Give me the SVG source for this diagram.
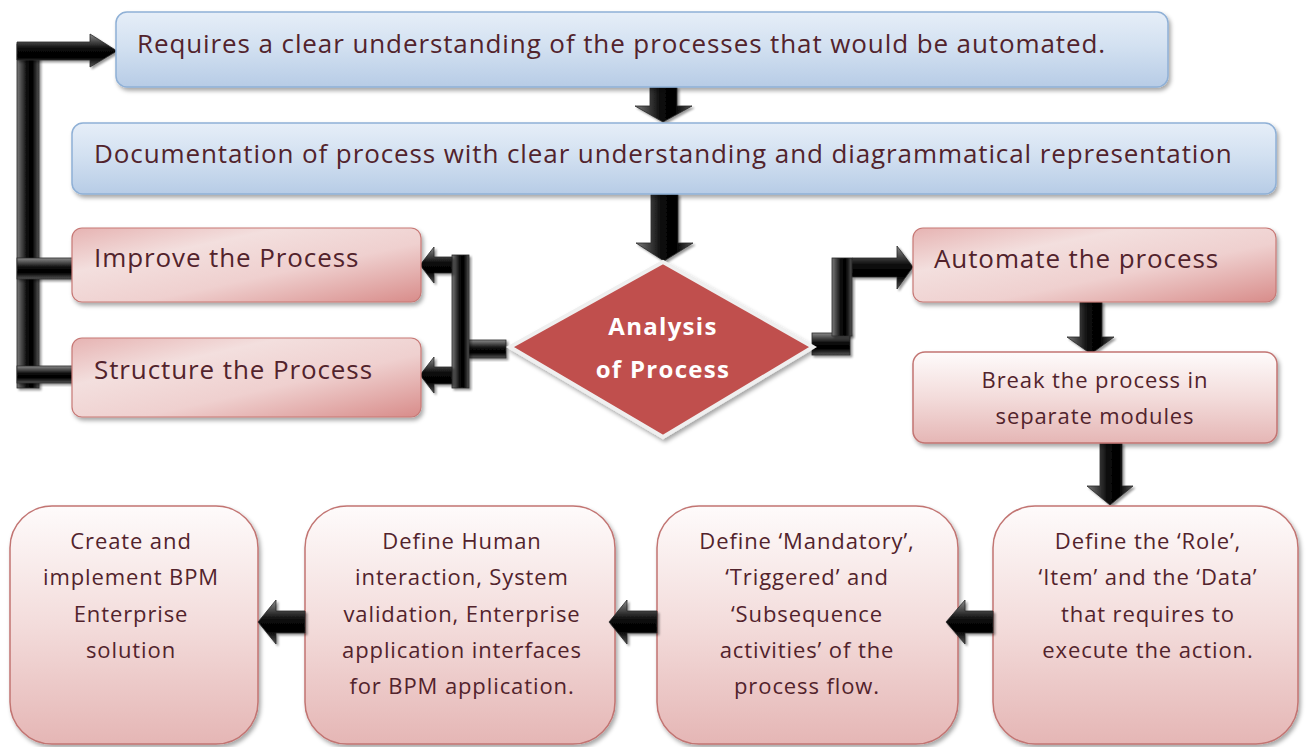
<svg xmlns="http://www.w3.org/2000/svg" width="1307" height="747" viewBox="0 0 1307 747">
  <defs>
    <linearGradient id="gBlue" x1="0" y1="0" x2="0" y2="1">
      <stop offset="0" stop-color="#e6eef8"/>
      <stop offset="0.45" stop-color="#d3e1f1"/>
      <stop offset="1" stop-color="#b7cce6"/>
    </linearGradient>
    <linearGradient id="gRed" x1="0" y1="0" x2="1" y2="1">
      <stop offset="0" stop-color="#e6b3b2"/>
      <stop offset="0.3" stop-color="#f3dfde"/>
      <stop offset="0.6" stop-color="#efd0cf"/>
      <stop offset="1" stop-color="#d88c8a"/>
    </linearGradient>
    <linearGradient id="gPale" x1="0" y1="0" x2="0" y2="1">
      <stop offset="0" stop-color="#fefbfb"/>
      <stop offset="0.5" stop-color="#f3dcdb"/>
      <stop offset="1" stop-color="#e5b6b5"/>
    </linearGradient>
    <!-- tube shading for horizontal and vertical arrow bodies -->
    <linearGradient id="gH" x1="0" y1="0" x2="0" y2="1">
      <stop offset="0" stop-color="#8a8a8a"/>
      <stop offset="0.45" stop-color="#0a0a0a"/>
      <stop offset="0.7" stop-color="#000"/>
      <stop offset="1" stop-color="#555"/>
    </linearGradient>
    <linearGradient id="gV" x1="0" y1="0" x2="1" y2="0">
      <stop offset="0" stop-color="#7a7a7a"/>
      <stop offset="0.45" stop-color="#0a0a0a"/>
      <stop offset="0.7" stop-color="#000"/>
      <stop offset="1" stop-color="#555"/>
    </linearGradient>
    <filter id="shadow" x="-5%" y="-10%" width="112%" height="125%">
      <feDropShadow dx="2" dy="3" stdDeviation="2" flood-color="#000" flood-opacity="0.35"/>
    </filter>
    <filter id="soft" x="-10%" y="-10%" width="130%" height="130%">
      <feDropShadow dx="2" dy="2" stdDeviation="1.2" flood-color="#000" flood-opacity="0.4"/>
    </filter>
  </defs>
  <style>
    text { font-family: "Open Sans", "Noto Sans", "DejaVu Sans", sans-serif; fill: #52232c; }
    .big { font-size: 26px; letter-spacing: 0.9px; }
    .mid { font-size: 22px; letter-spacing: 0.9px; text-anchor: middle; }
    .dia { font-weight: bold; font-size: 24px; letter-spacing: 1.3px; fill: #fff; text-anchor: middle; }
    .blue { fill: url(#gBlue); stroke: #8fb0d6; stroke-width: 1.5; filter: url(#shadow); }
    .red { fill: url(#gRed); stroke: #c77875; stroke-width: 1.2; filter: url(#shadow); }
    .pale { fill: url(#gPale); stroke: #c27472; stroke-width: 1.5; filter: url(#shadow); }
    .ah { fill: url(#gH); stroke: #2a2a2a; stroke-width: 0.8; filter: url(#soft); }
    .av { fill: url(#gV); stroke: #2a2a2a; stroke-width: 0.8; filter: url(#soft); }
  </style>

  <rect width="1307" height="747" fill="#fff"/>

  <!-- connectors -->
  <g id="connectors">
    <!-- feedback loop on the left back to the first step -->
    <rect class="av" x="17" y="44" width="22" height="344"/>
    <polygon class="ah" points="17,42 90,42 90,34 117,51 90,67 90,60 17,60"/>
    <rect class="ah" x="17" y="258" width="57" height="21"/>
    <rect class="ah" x="17" y="366" width="57" height="17"/>

    <!-- vertical flow at the top -->
    <polygon class="av" points="650,87 677,87 677,106 692,106 663,122 635,106 650,106"/>
    <polygon class="av" points="651,194 678,194 678,243 693,243 664,261 636,243 651,243"/>

    <!-- from the decision to improve / structure -->
    <rect class="ah" x="468" y="340" width="38" height="18"/>
    <rect class="av" x="452" y="255" width="17" height="133"/>
    <polygon class="ah" points="452,257 452,273 434,273 434,283 420,265 434,247 434,257"/>
    <polygon class="ah" points="452,367 452,384 434,384 434,393 420,375 434,357 434,367"/>

    <!-- from the decision to automate -->
    <rect class="ah" x="812" y="333" width="38" height="22"/>
    <rect class="av" x="832" y="258" width="20" height="78"/>
    <polygon class="ah" points="852,258 897,258 897,246 913,267 897,289 897,277 852,277"/>

    <!-- down the right column -->
    <polygon class="av" points="1080,302 1102,302 1102,337 1114,337 1091,354 1067,337 1080,337"/>
    <polygon class="av" points="1100,443 1122,443 1122,486 1133,486 1110,505 1087,486 1100,486"/>
  </g>

  <!-- top steps -->
  <g id="n-requires">
    <rect class="blue" x="116" y="12" width="1052" height="75" rx="11"/>
    <text class="big" x="137" y="53">Requires a clear understanding of the processes that would be automated.</text>
  </g>
  <g id="n-documentation">
    <rect class="blue" x="72" y="123" width="1204" height="71" rx="11"/>
    <text class="big" x="94" y="163">Documentation of process with clear understanding and diagrammatical representation</text>
  </g>

  <g id="n-improve">
    <rect class="red" x="72" y="228" width="349" height="74" rx="10"/>
    <text class="big" x="94" y="267">Improve the Process</text>
  </g>
  <g id="n-structure">
    <rect class="red" x="72" y="338" width="349" height="79" rx="10"/>
    <text class="big" x="94" y="379">Structure the Process</text>
  </g>

  <g id="n-analysis">
    <polygon points="663,262 813,347 663,437 510,347" fill="#c0504d" stroke="#efefef" stroke-width="4" filter="url(#shadow)"/>
    <text class="dia" x="663" y="335">Analysis</text>
    <text class="dia" x="663" y="378">of Process</text>
  </g>

  <g id="n-automate">
    <rect class="red" x="913" y="228" width="363" height="74" rx="10"/>
    <text class="big" x="934" y="268">Automate the process</text>
  </g>
  <g id="n-break">
    <rect class="pale" x="913" y="352" width="364" height="91" rx="12"/>
    <text class="mid" x="1095" y="388">Break the process in</text>
    <text class="mid" x="1095" y="424">separate modules</text>
  </g>

  <!-- bottom row -->
  <g id="n-define-role">
    <rect class="pale" x="993" y="506" width="305" height="238" rx="42"/>
    <text class="mid" x="1148" y="549">Define the ‘Role’,</text>
    <text class="mid" x="1148" y="585">‘Item’ and the ‘Data’</text>
    <text class="mid" x="1148" y="622">that requires to</text>
    <text class="mid" x="1148" y="658">execute the action.</text>
  </g>
  <g id="n-define-activities">
    <rect class="pale" x="657" y="506" width="301" height="238" rx="42"/>
    <text class="mid" x="807" y="549">Define ‘Mandatory’,</text>
    <text class="mid" x="807" y="585">‘Triggered’ and</text>
    <text class="mid" x="807" y="622">‘Subsequence</text>
    <text class="mid" x="807" y="658">activities’ of the</text>
    <text class="mid" x="807" y="694">process flow.</text>
  </g>
  <g id="n-define-interaction">
    <rect class="pale" x="305" y="506" width="310" height="238" rx="42"/>
    <text class="mid" x="462" y="549">Define Human</text>
    <text class="mid" x="462" y="585">interaction, System</text>
    <text class="mid" x="462" y="622">validation, Enterprise</text>
    <text class="mid" x="462" y="658">application interfaces</text>
    <text class="mid" x="462" y="694">for BPM application.</text>
  </g>
  <g id="n-create">
    <rect class="pale" x="10" y="506" width="248" height="238" rx="42"/>
    <text class="mid" x="131" y="549">Create and</text>
    <text class="mid" x="131" y="585">implement BPM</text>
    <text class="mid" x="131" y="622">Enterprise</text>
    <text class="mid" x="131" y="658">solution</text>
  </g>

  <!-- leftward arrows along the bottom row -->
  <g id="connectors-bottom">
    <polygon class="ah" points="993,611 993,633 965,633 965,644 946,622 965,600 965,611"/>
    <polygon class="ah" points="657,611 657,633 627,633 627,644 609,622 627,600 627,611"/>
    <polygon class="ah" points="305,611 305,633 276,633 276,644 258,622 276,600 276,611"/>
  </g>
</svg>
